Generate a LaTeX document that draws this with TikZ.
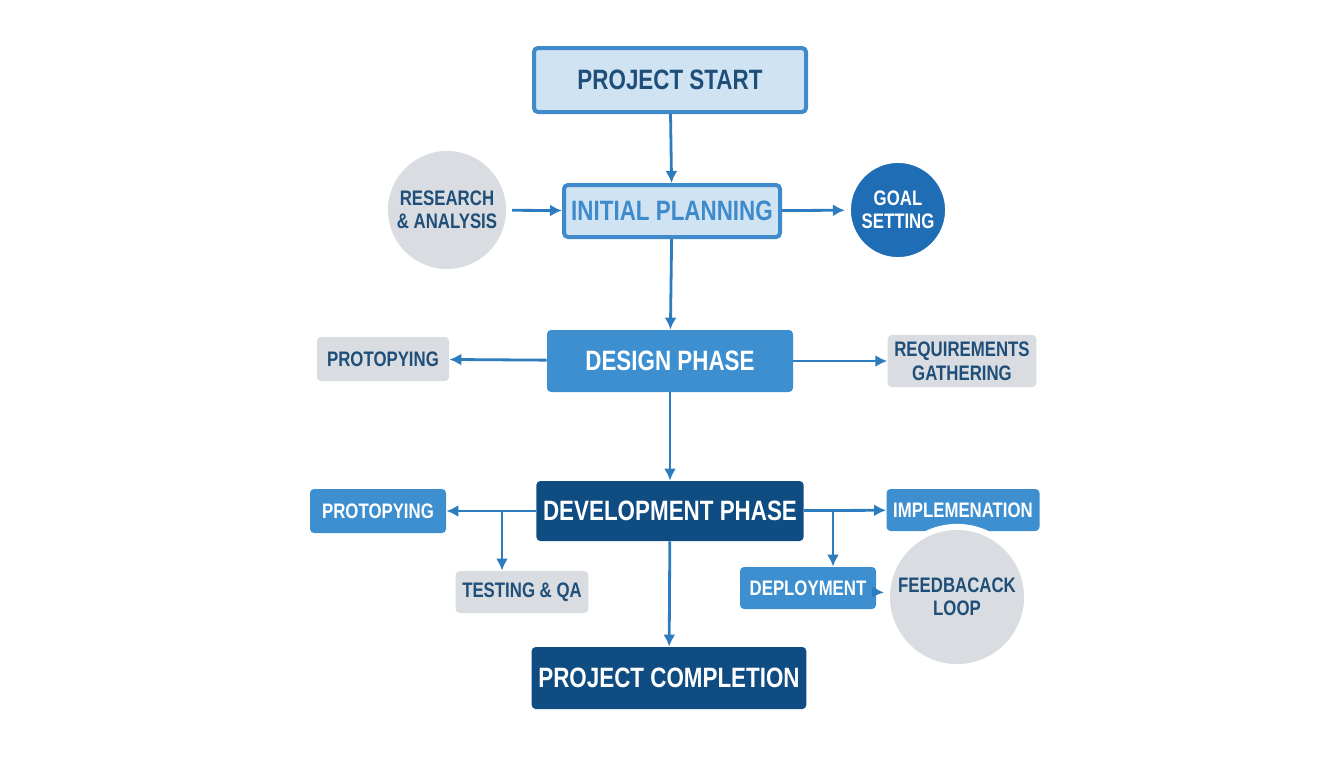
\documentclass[tikz,border=0pt]{standalone}
\usepackage{fontspec}
\setmainfont{Liberation Sans}[FakeStretch=0.8]
\usetikzlibrary{arrows.meta, positioning, calc}

\definecolor{lightbox}{HTML}{CFE3F3}
\definecolor{edgeblue}{HTML}{3F8ACB}
\definecolor{midblue}{HTML}{3D8FD0}
\definecolor{darkblue}{HTML}{0F4C81}
\definecolor{goalblue}{HTML}{1F6DB5}
\definecolor{greybox}{HTML}{D9DCE0}
\definecolor{textblue}{HTML}{1F4E79}
\definecolor{arrowblue}{HTML}{2E7CC0}

\tikzset{
    box/.style={rectangle, rounded corners=2pt, align=center, font=\bfseries},
    bigbox/.style={box, font=\fontsize{14}{16}\selectfont\bfseries},
    smallbox/.style={box, font=\fontsize{10.5}{12}\selectfont\bfseries},
    greyone/.style={smallbox, fill=greybox, text=textblue},
    blueone/.style={smallbox, fill=midblue, text=white},
    disc/.style={circle, align=center, draw=white, line width=3pt,
        font=\fontsize{10.5}{11.5}\selectfont\bfseries},
    flow/.style={-{Latex[length=6pt,width=6pt]}, arrowblue, line width=1.4pt}
}

\begin{document}
\begin{tikzpicture}[x=0.5pt, y=-0.5pt]
        \useasboundingbox (0,0) rectangle (1344,768);

        % main column
        \node[bigbox, fill=lightbox, draw=edgeblue, line width=2pt, text=textblue,
              minimum width=136pt, minimum height=32pt] (start) at (670,80) {PROJECT START};
        \node[bigbox, fill=lightbox, draw=edgeblue, line width=2pt, text=edgeblue,
              minimum width=108pt, minimum height=26pt] (plan) at (672,211) {INITIAL PLANNING};
        \node[bigbox, fill=midblue, text=white,
              minimum width=123pt, minimum height=31pt] (design) at (670,361) {DESIGN PHASE};
        \node[bigbox, fill=darkblue, text=white,
              minimum width=121pt, minimum height=30pt] (dev) at (670,511) {DEVELOPMENT PHASE};
        \node[bigbox, fill=darkblue, text=white,
              minimum width=136pt, minimum height=31pt] (done) at (669,678) {PROJECT COMPLETION};

        % side nodes
        \node[disc, fill=greybox, text=textblue, minimum size=46pt] (research) at (447,210) {RESEARCH\\\& ANALYSIS};
        \node[disc, fill=goalblue, text=white, minimum size=48pt] (goal) at (898,210) {GOAL\\SETTING};
        \node[greyone, minimum width=66pt, minimum height=22pt] (proto1) at (383,359) {PROTOPYING};
        \node[greyone, minimum width=66pt, minimum height=25pt] (req) at (962,361) {REQUIREMENTS\\GATHERING};
        \node[blueone, minimum width=68pt, minimum height=22pt] (proto2) at (378,511) {PROTOPYING};
        \node[greyone, minimum width=66pt, minimum height=21pt] (test) at (522,592) {TESTING \& QA};
        \node[blueone, minimum width=70pt, minimum height=21pt] (impl) at (963,510) {IMPLEMENATION};
        \node[blueone, minimum width=68pt, minimum height=21pt] (deploy) at (808,588) {DEPLOYMENT};
        \node[disc, fill=greybox, text=textblue, minimum size=48pt] (feedback) at (957,597) {FEEDBACACK\\LOOP};

        % connectors
        \draw[flow] (start) -- (plan);
        \draw[flow] (plan) -- (design);
        \draw[flow] (design) -- (dev);
        \draw[flow] (dev) -- (done);
        \draw[flow] (research) -- (plan);
        \draw[flow] (plan) -- (goal);
        \draw[flow] (design) -- (proto1);
        \draw[flow] (design) -- (req);
        \draw[flow] (dev) -- (proto2);
        \draw[flow] (dev) -- (impl);
        \draw[flow] (deploy) -- (feedback);

        \coordinate (lsplit) at (502,511);
        \coordinate (rsplit) at (833,511);
        \draw[flow] (lsplit) -- (lsplit |- test.north);
        \draw[flow] (rsplit) -- (rsplit |- deploy.north);

\end{tikzpicture}
\end{document}
